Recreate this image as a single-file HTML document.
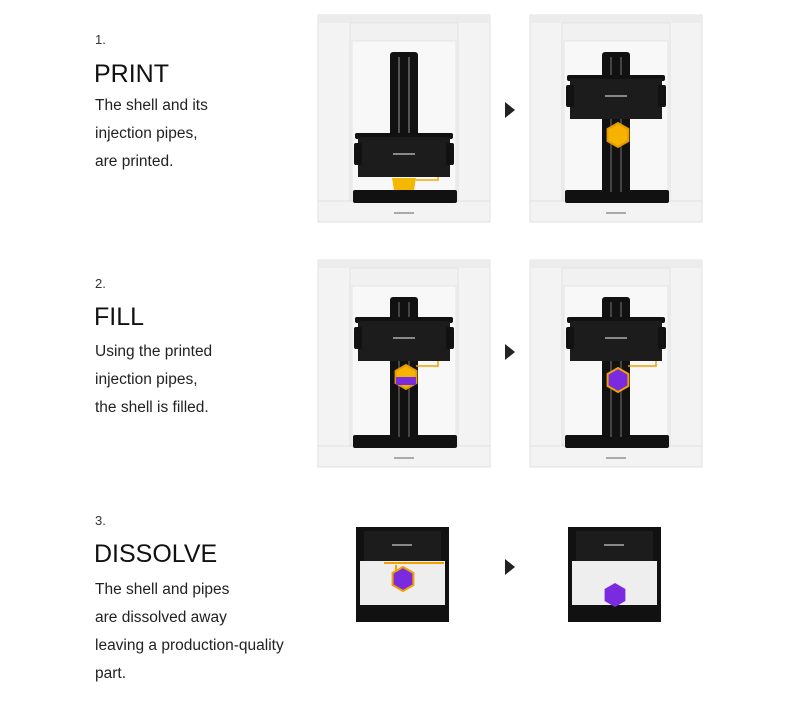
<!DOCTYPE html>
<html><head><meta charset="utf-8"><style>
body{margin:0;background:#fff;width:800px;height:715px;overflow:hidden;position:relative;font-family:"Liberation Sans",sans-serif;color:#222}
.n{position:absolute;left:95px;font-size:13px;color:#333}
.t{position:absolute;left:94px;font-size:25px;letter-spacing:0px;color:#111}
.d{position:absolute;left:95px;font-size:15.5px;line-height:28px;color:#222}
svg{position:absolute;left:0;top:0}
</style></head><body>
<div class="n" style="top:32px">1.</div>
<div class="t" style="top:60px">PRINT</div>
<div class="d" style="top:92px">The shell and its<br>injection pipes,<br>are printed.</div>
<div class="n" style="top:276px">2.</div>
<div class="t" style="top:303px">FILL</div>
<div class="d" style="top:338px">Using the printed<br>injection pipes,<br>the shell is filled.</div>
<div class="n" style="top:513px">3.</div>
<div class="t" style="top:540px">DISSOLVE</div>
<div class="d" style="top:576px">The shell and pipes<br>are dissolved away<br>leaving a production-quality<br>part.</div>
<svg width="800" height="715" viewBox="0 0 800 715">
<defs>
<g id="box">
<rect x="0" y="0" width="172" height="207" fill="#f3f3f3" stroke="#e0e0e0"/>
<rect x="0" y="0" width="172" height="8" fill="#ececec"/>
<rect x="32" y="8" width="108" height="177" fill="#f1f1f1" stroke="#e2e2e2"/>
<rect x="34" y="26" width="104" height="159" fill="#f8f8f8" stroke="#e4e4e4"/>
<line x1="0" y1="186" x2="172" y2="186" stroke="#e0e0e0"/>
<rect x="76" y="197" width="20" height="2" fill="#aaa"/>
<rect x="35" y="175" width="104" height="13" rx="2" fill="#111"/>
</g>
<g id="head">
<rect x="37" y="0" width="98" height="6" rx="2" fill="#111"/>
<rect x="40" y="4" width="92" height="40" fill="#1c1c1c"/>
<rect x="36" y="10" width="8" height="22" rx="2" fill="#111"/>
<rect x="128" y="10" width="8" height="22" rx="2" fill="#111"/>
<rect x="75" y="20" width="22" height="2" fill="#888"/>
</g>
<g id="col">
<rect x="72" y="37" width="28" height="90" rx="3" fill="#111"/>
<rect x="80" y="42" width="2" height="80" fill="#555"/>
<rect x="90" y="42" width="2" height="80" fill="#555"/>
</g>
<g id="colLong">
<rect x="72" y="37" width="28" height="145" rx="3" fill="#111"/>
<rect x="80" y="42" width="2" height="135" fill="#444"/>
<rect x="90" y="42" width="2" height="135" fill="#444"/>
</g>
<polygon id="hex" points="0,-12 10.4,-6 10.4,6 0,12 -10.4,6 -10.4,-6"/>
<polygon id="tri" points="0,0 10,8 0,16" fill="#222"/>
</defs>

<g transform="translate(318,15)">
<use href="#box"/><use href="#col"/>
<path d="M74 163 h24 l-2 12 h-20z" fill="#f5b800"/>
<path d="M98 165 h22 v-6" stroke="#f5a800" stroke-width="1.5" fill="none"/>
<g transform="translate(0,118)"><use href="#head"/></g>
</g>
<use href="#tri" x="505" y="102"/>
<g transform="translate(530,15)">
<use href="#box"/><use href="#colLong"/>
<g transform="translate(0,60)"><use href="#head"/></g>
<use href="#hex" x="88" y="120" fill="#f5b300" stroke="#e59a00" stroke-width="2"/>
</g>

<g transform="translate(318,260)">
<use href="#box"/><use href="#colLong"/>
<g transform="translate(0,57)"><use href="#head"/></g>
<path d="M98 106 h22 v-5" stroke="#f0a000" stroke-width="1.5" fill="none"/>
<use href="#hex" x="88" y="117" fill="#f5b300" stroke="#e59a00" stroke-width="2"/>
<rect x="78" y="117" width="20" height="8" fill="#7a2be0"/>
</g>
<use href="#tri" x="505" y="344"/>
<g transform="translate(530,260)">
<use href="#box"/><use href="#colLong"/>
<g transform="translate(0,57)"><use href="#head"/></g>
<path d="M98 106 h28 v-5" stroke="#f0a000" stroke-width="1.5" fill="none"/>
<use href="#hex" x="88" y="120" fill="#7a2be0" stroke="#f0a000" stroke-width="2"/>
</g>

<g transform="translate(356,527)">
<rect x="0" y="0" width="93" height="95" fill="#111"/>
<rect x="4" y="34" width="85" height="44" fill="#eeeeee"/>
<rect x="8" y="4" width="77" height="30" fill="#1c1c1c"/>
<rect x="36" y="17" width="20" height="2" fill="#888"/>
<path d="M28 36 h60 M40 38 v10" stroke="#f0a000" stroke-width="2" fill="none"/>
<use href="#hex" x="47" y="52" fill="#7a2be0" stroke="#f0a000" stroke-width="2"/>
</g>
<use href="#tri" x="505" y="559"/>
<g transform="translate(568,527)">
<rect x="0" y="0" width="93" height="95" fill="#111"/>
<rect x="4" y="34" width="85" height="44" fill="#eeeeee"/>
<rect x="8" y="4" width="77" height="30" fill="#1c1c1c"/>
<rect x="36" y="17" width="20" height="2" fill="#888"/>
<use href="#hex" x="47" y="68" fill="#7a2be0"/>
</g>
</svg>
</body></html>
